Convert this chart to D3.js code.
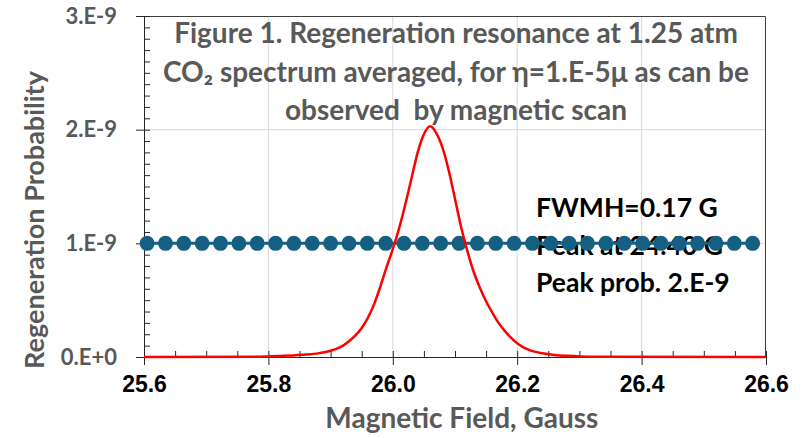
<!DOCTYPE html>
<html>
<head>
<meta charset="utf-8">
<script src="https://cdn.jsdelivr.net/npm/d3@7"></script>
<style>
  body { margin: 0; background: #fff; }
  svg { display: block; }
</style>
</head>
<body>
<div id="chart"></div>
<script>
// resonance curve, probability in units of 1e-9
const curveX = [25.6, 25.78, 25.8, 25.82, 25.84, 25.86, 25.88, 25.89, 25.9, 25.91, 25.92, 25.93, 25.94, 25.95,
  25.96, 25.97, 25.98, 25.99, 26.0, 26.01, 26.02, 26.03, 26.04, 26.05, 26.06, 26.07, 26.08, 26.09,
  26.1, 26.11, 26.12, 26.13, 26.14, 26.15, 26.16, 26.17, 26.18, 26.19, 26.2, 26.21, 26.22, 26.23,
  26.24, 26.26, 26.28, 26.3, 26.33, 26.6];
const curveY = [0, 0.002, 0.005, 0.009, 0.014, 0.021, 0.032, 0.042, 0.055, 0.073, 0.10, 0.14, 0.19, 0.255,
  0.345, 0.465, 0.62, 0.79, 0.95, 1.13, 1.34, 1.57, 1.80, 1.96, 2.03, 1.97, 1.84, 1.64,
  1.39, 1.14, 0.93, 0.75, 0.61, 0.49, 0.39, 0.30, 0.23, 0.17, 0.12, 0.085, 0.06, 0.045,
  0.033, 0.018, 0.01, 0.005, 0.002, 0];

// flat marker series at 1e-9
const dotX = [25.605, 25.6345, 25.664, 25.6935, 25.723, 25.7525, 25.782, 25.8115, 25.841, 25.8705,
  25.9, 25.9295, 25.959, 25.9885, 26.018, 26.0475, 26.077, 26.1065, 26.136, 26.1655, 26.195,
  26.2245, 26.254, 26.2835, 26.313, 26.3425, 26.372, 26.4015, 26.431, 26.4605, 26.49, 26.5195,
  26.549, 26.5785];
const dotY = [1, 1, 1, 1, 1, 1, 1, 1, 1, 1, 1, 1, 1, 1, 1, 1, 1, 1, 1, 1, 1, 1, 1, 1, 1, 1, 1, 1,
  1, 1, 1, 1, 1, 1];

const xTicks = [25.6, 25.8, 26.0, 26.2, 26.4, 26.6];
const yTicks = [0, 1, 2, 3];
const yTickLabels = ["0.E+0", "1.E-9", "2.E-9", "3.E-9"];
const titleLines = ["Figure 1. Regeneration resonance at 1.25 atm",
  "CO\u2082 spectrum averaged, for \u03B7=1.E-5\u03BC as can be",
  "observed  by magnetic scan"];
const noteLines = ["FWMH=0.17 G", "Peak at 24.40 G", "Peak prob. 2.E-9"];

const margin = { top: 16, right: 38, bottom: 81, left: 144 };
const width = 804 - margin.left - margin.right;
const height = 438 - margin.top - margin.bottom;

const svg = d3.select("#chart").append("svg")
    .attr("width", 804)
    .attr("height", 438)
  .append("g")
    .attr("transform", "translate(" + margin.left + "," + margin.top + ")");

const x = d3.scaleLinear().domain([25.6, 26.6]).range([0, width]);
const y = d3.scaleLinear().domain([0, 3]).range([height, 0]);

// gridlines
svg.append("g")
    .selectAll("line")
    .data(xTicks.slice(1, -1))
    .join("line")
    .attr("x1", d => x(d)).attr("x2", d => x(d))
    .attr("y1", 0).attr("y2", height)
    .style("stroke", "#d9d9d9");

svg.append("g")
    .selectAll("line")
    .data(yTicks.slice(1, -1))
    .join("line")
    .attr("x1", 0).attr("x2", width)
    .attr("y1", d => y(d)).attr("y2", d => y(d))
    .style("stroke", "#d9d9d9");

// plot border (top/right)
svg.append("path")
    .attr("d", "M0,0.5H" + (width - 0.5) + "V" + height)
    .style("fill", "none")
    .style("stroke", "#404040");

// minor ticks, drawn inward
svg.append("g")
    .attr("transform", "translate(0," + height + ")")
    .call(d3.axisTop(x).ticks(25).tickSize(6).tickFormat(""))
    .call(g => g.select(".domain").remove());

svg.append("g")
    .call(d3.axisRight(y).ticks(30).tickSize(6).tickFormat(""))
    .call(g => g.select(".domain").remove());

// main axes
const xAxis = svg.append("g")
    .attr("transform", "translate(0," + height + ")")
    .call(d3.axisBottom(x).tickValues(xTicks).tickSize(8).tickSizeOuter(0).tickFormat(d3.format(".1f")));
xAxis.selectAll("text")
    .attr("dy", "1.05em")
    .style("font-family", "'Liberation Sans', Arial, sans-serif")
    .style("font-weight", "bold")
    .style("font-size", "23px")
    .style("fill", "#000");

const yAxis = svg.append("g")
    .call(d3.axisLeft(y).tickValues(yTicks).tickSize(8).tickSizeOuter(0).tickFormat((d, i) => yTickLabels[i]));
yAxis.selectAll("text")
    .attr("x", -27)
    .style("font-family", "Lato, sans-serif")
    .style("font-weight", "bold")
    .style("font-size", "22px")
    .style("fill", "#595959");

svg.selectAll(".tick line, .domain").style("stroke", "#262626");

// axis titles
svg.append("text")
    .attr("x", x(26.111))
    .attr("y", height + 71)
    .attr("text-anchor", "middle")
    .style("font-family", "Lato, sans-serif")
    .style("font-weight", "bold")
    .style("font-size", "28px")
    .style("fill", "#595959")
    .text("Magnetic Field, Gauss");

svg.append("text")
    .attr("transform", "translate(" + (-100) + "," + 204 + ") rotate(-90)")
    .attr("text-anchor", "middle")
    .style("font-family", "Lato, sans-serif")
    .style("font-weight", "bold")
    .style("font-size", "27px")
    .style("fill", "#595959")
    .text("Regeneration Probability");

// chart title
svg.append("text")
    .attr("text-anchor", "middle")
    .style("font-family", "Lato, sans-serif")
    .style("font-weight", "bold")
    .style("font-size", "28px")
    .style("fill", "#595959")
    .style("white-space", "pre")
  .selectAll("tspan")
    .data(titleLines)
    .join("tspan")
    .attr("x", width / 2 + 1)
    .attr("y", (d, i) => 27 + i * 38.5)
    .text(d => d);

// annotation block (under the series)
svg.append("g")
    .selectAll("text")
    .data(noteLines)
    .join("text")
    .attr("x", 392)
    .attr("y", (d, i) => 201 + i * 37.5)
    .style("font-family", "Lato, sans-serif")
    .style("font-weight", "bold")
    .style("font-size", "26.5px")
    .style("fill", "#000")
    .text(d => d);

// marker series
const dots = dotX.map((d, i) => ({ x: d, y: dotY[i] }));
svg.append("path")
    .datum(dots)
    .attr("d", d3.line().x(d => x(d.x)).y(d => y(d.y)))
    .style("fill", "none")
    .style("stroke", "#156082")
    .style("stroke-width", 3);

svg.append("g")
    .selectAll("circle")
    .data(dots)
    .join("circle")
    .attr("cx", d => x(d.x))
    .attr("cy", d => y(d.y))
    .attr("r", 7.5)
    .style("fill", "#156082");

// resonance curve
const curve = curveX.map((d, i) => ({ x: d, y: curveY[i] }));
svg.append("path")
    .datum(curve)
    .attr("d", d3.line().x(d => x(d.x)).y(d => y(d.y)).curve(d3.curveMonotoneX))
    .style("fill", "none")
    .style("stroke", "#ff0000")
    .style("stroke-width", 2.5);
</script>
</body>
</html>
